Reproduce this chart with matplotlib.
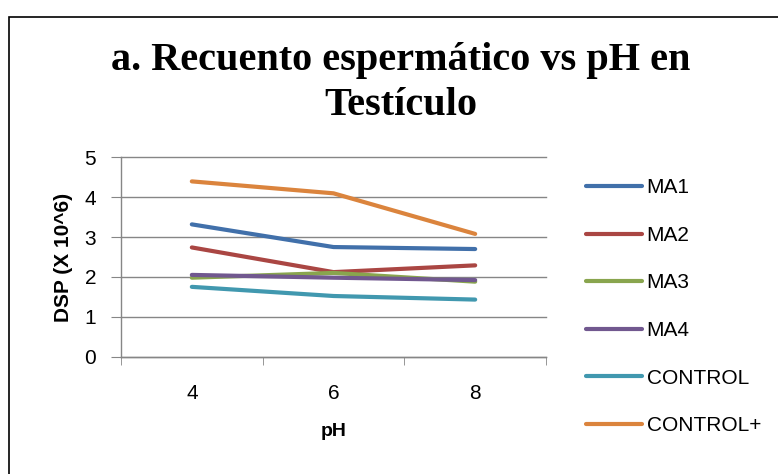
import matplotlib
matplotlib.use('Agg')
import matplotlib.pyplot as plt
from matplotlib.patches import Rectangle

# data
phLabels = ['4', '6', '8']
ma1 = [3.32, 2.75, 2.70]
ma2 = [2.74, 2.12, 2.29]
ma3 = [1.98, 2.10, 1.88]
ma4 = [2.05, 1.98, 1.92]
control = [1.75, 1.52, 1.43]
controlPlus = [4.40, 4.10, 3.08]

seriesNames = ['MA1', 'MA2', 'MA3', 'MA4', 'CONTROL', 'CONTROL+']
seriesValues = [ma1, ma2, ma3, ma4, control, controlPlus]
seriesColors = ['#4170AA', '#AA4643', '#89A54E', '#71588F', '#4198AF', '#DB843D']

plt.rcParams['font.family'] = ['Liberation Sans', 'DejaVu Sans']

fig = plt.figure(figsize=(7.78, 4.74), dpi=100)
ax = fig.add_axes([121 / 778, 1 - 356.5 / 474, (546 - 121) / 778, (356.5 - 157.5) / 474])

xs = list(range(len(phLabels)))
for name, vals, col in zip(seriesNames, seriesValues, seriesColors):
    ax.plot(xs, vals, color=col, linewidth=3.0, label=name, solid_capstyle='round')

ax.set_xlim(-0.5, len(phLabels) - 0.5)
ax.set_ylim(0, 5)
ax.set_yticks(range(0, 6))
ax.set_xticks(xs)
ax.set_xticklabels(phLabels)
ax.set_xticks([x - 0.5 for x in range(len(phLabels) + 1)], minor=True)
ax.tick_params(axis='x', which='major', length=0, pad=20, labelsize=15)
ax.tick_params(axis='x', which='minor', length=6, color='#868686', direction='out')
ax.tick_params(axis='y', length=7, color='#868686', direction='out', labelsize=15, pad=11)
ax.grid(axis='y', color='#868686', linewidth=1.0)
for gl in ax.get_ygridlines():
    gl.set_clip_on(False)
ax.set_axisbelow(True)
for side in ['top', 'right']:
    ax.spines[side].set_visible(False)
for side in ['left', 'bottom']:
    ax.spines[side].set_color('#868686')
    ax.spines[side].set_linewidth(1.0)

ax.set_xlabel('pH', fontsize=14, fontweight='bold', labelpad=14)
ax.set_ylabel('DSP (X 10^6)', fontsize=15, fontweight='bold', labelpad=8)

fig.text(0.515, 0.825, 'a. Recuento espermático vs pH en\nTestículo', ha='center', va='center',
         fontsize=29, fontweight='bold', family='Liberation Serif', linespacing=1.27)

leg = ax.legend(loc='upper left', bbox_to_anchor=(578 / 778, 1 - 170 / 474),
                bbox_transform=fig.transFigure, frameon=False, fontsize=15,
                handlelength=2.65, handletextpad=0.25, labelspacing=1.37, borderaxespad=0)

fig.patches.append(Rectangle((9 / 778, -0.1), 1.2, 1 - 17 / 474 + 0.1, transform=fig.transFigure,
                             fill=False, edgecolor='black', linewidth=1.2))

fig.savefig('out.png', dpi=100)
